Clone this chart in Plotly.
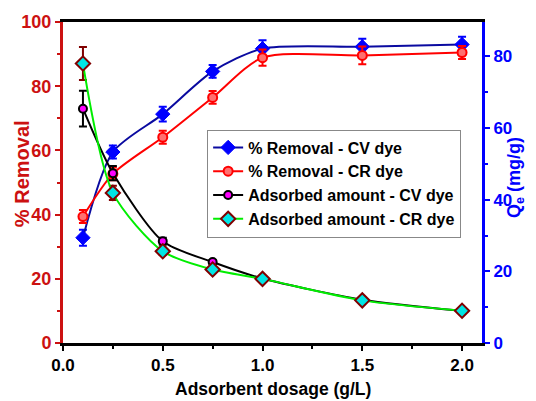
import plotly.graph_objects as go

dosage = [0.1, 0.25, 0.5, 0.75, 1.0, 1.5, 2.0]

removal_cv = [32.8, 59.5, 71.3, 84.6, 91.7, 92.3, 93.0]
removal_cv_err = [2.5, 2.0, 2.3, 2.0, 2.6, 2.5, 2.4]

removal_cr = [39.4, 52.7, 64.1, 76.5, 88.9, 89.6, 90.5]
removal_cr_err = [2.0, 2.0, 2.0, 2.0, 2.5, 2.8, 2.0]

qe_cv = [65.4, 47.4, 28.4, 22.6, 18.0, 12.1, 9.0]
qe_cv_err = [5.0, 2.0, 1.0, 0.6, 0.5, 0.4, 0.3]

qe_cr = [78.0, 41.9, 25.6, 20.5, 17.9, 11.9, 9.0]
qe_cr_err = [4.6, 2.0, 1.0, 0.6, 0.5, 0.4, 0.3]

x_ticks = [0.0, 0.5, 1.0, 1.5, 2.0]
left_ticks = [0, 20, 40, 60, 80, 100]
right_ticks = [0, 20, 40, 60, 80]

RED = "#CC1111"
BLUE = "#0000FF"
FONT = "Liberation Sans, Arial, sans-serif"
SMOOTH = 0.75

fig = go.Figure()

fig.add_trace(go.Scatter(
    x=dosage, y=removal_cv, name="% Removal - CV dye", mode="lines+markers",
    line=dict(color="#0A0AA0", width=2, shape="spline", smoothing=SMOOTH),
    marker=dict(symbol="diamond", size=11, color=BLUE, line=dict(color=BLUE, width=1)),
    error_y=dict(type="data", array=removal_cv_err, color=BLUE, thickness=2, width=4),
))
fig.add_trace(go.Scatter(
    x=dosage, y=removal_cr, name="% Removal - CR dye", mode="lines+markers",
    line=dict(color="#FF0000", width=2, shape="spline", smoothing=SMOOTH),
    marker=dict(symbol="circle", size=9, color="#FF7070", line=dict(color="#FF0000", width=2)),
    error_y=dict(type="data", array=removal_cr_err, color="#FF0000", thickness=2, width=4),
))
fig.add_trace(go.Scatter(
    x=dosage, y=qe_cv, name="Adsorbed amount - CV dye", mode="lines+markers", yaxis="y2",
    line=dict(color="#000000", width=2, shape="spline", smoothing=SMOOTH),
    marker=dict(symbol="circle", size=8, color="#FF00FF", line=dict(color="#000000", width=2)),
    error_y=dict(type="data", array=qe_cv_err, color="#000000", thickness=2, width=4),
))
fig.add_trace(go.Scatter(
    x=dosage, y=qe_cr, name="Adsorbed amount - CR dye", mode="lines+markers", yaxis="y2",
    line=dict(color="#00EE00", width=2, shape="spline", smoothing=SMOOTH),
    marker=dict(symbol="diamond", size=11, color="#00E5E5", line=dict(color="#800000", width=2)),
    error_y=dict(type="data", array=qe_cr_err, color="#800000", thickness=2, width=4),
))

fig.update_layout(
    width=536, height=401,
    margin=dict(l=63, r=54, t=20, b=58),
    paper_bgcolor="white", plot_bgcolor="white",
    font=dict(family=FONT, size=15, color="black", weight="bold"),
    showlegend=True,
    legend=dict(
        x=0.344, y=0.665, xanchor="left", yanchor="top",
        bgcolor="rgba(255,255,255,0)", bordercolor="#888888", borderwidth=1,
        font=dict(family=FONT, size=16, color="black", weight="bold"),
        tracegroupgap=0, itemwidth=30,
    ),
    xaxis=dict(
        range=[0, 2.1], tickvals=x_ticks, ticktext=["0.0", "0.5", "1.0", "1.5", "2.0"],
        showgrid=False, zeroline=False,
        showline=True, linecolor="black", linewidth=3, mirror=True,
        ticks="outside", ticklen=5, tickwidth=2, tickcolor="black",
        minor=dict(ticks="outside", ticklen=3, tickwidth=2, dtick=0.25, tickcolor="black"),
        tickfont=dict(family=FONT, size=17, color="black", weight="bold"),
    ),
    yaxis=dict(
        range=[0, 100], tickvals=left_ticks,
        showgrid=False, zeroline=False,
        showline=True, linecolor=RED, linewidth=3,
        ticks="outside", ticklen=5, tickwidth=2, tickcolor=RED,
        minor=dict(ticks="outside", ticklen=3, tickwidth=2, dtick=10, tickcolor=RED),
        tickfont=dict(family=FONT, size=18, color=RED, weight="bold"),
    ),
    yaxis2=dict(
        range=[0, 89.6], tickvals=right_ticks, overlaying="y", side="right",
        showgrid=False, zeroline=False,
        showline=True, linecolor=BLUE, linewidth=3,
        ticks="outside", ticklen=5, tickwidth=2, tickcolor=BLUE,
        minor=dict(ticks="outside", ticklen=3, tickwidth=2, dtick=10, tickcolor=BLUE),
        tickfont=dict(family=FONT, size=17, color=BLUE, weight="bold"),
    ),
    annotations=[
        dict(text="Adsorbent dosage (g/L)", xref="paper", yref="paper", x=0.5, y=-0.105,
             xanchor="center", yanchor="top", showarrow=False,
             font=dict(family=FONT, size=17.5, color="black", weight="bold")),
        dict(text="% Removal", xref="paper", yref="paper", x=-0.098, y=0.529,
             xanchor="center", yanchor="middle", textangle=-90, showarrow=False,
             font=dict(family=FONT, size=20, color=RED, weight="bold")),
        dict(text="Q<sub>e</sub> (mg/g)", xref="paper", yref="paper", x=1.079, y=0.514,
             xanchor="center", yanchor="middle", textangle=-90, showarrow=False,
             font=dict(family=FONT, size=18, color=BLUE, weight="bold")),
    ],
)

fig.write_html("out.html")
